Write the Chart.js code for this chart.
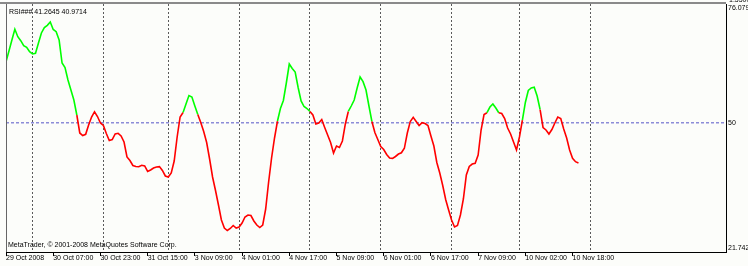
<!DOCTYPE html>
<html>
<head>
<meta charset="utf-8">
<script src="https://cdn.jsdelivr.net/npm/chart.js@4.4.1/dist/chart.umd.min.js"></script>
<style>
  html, body { margin: 0; padding: 0; background: #fcfdfa; }
  #wrap { width: 748px; height: 266px; }
</style>
</head>
<body>
<div id="wrap"><canvas id="rsi" width="748" height="266"></canvas></div>
<script>
// RSI value of every H1 bar, first bar = 29 Oct 2008
const rsi = [
  63.44, 65.78, 68.19, 70.54, 68.92, 68.04, 66.94, 66.59, 65.63, 65.13,
  65.28, 67.53, 69.73, 70.93, 71.41, 72.14, 70.49, 70.01, 68.19, 63.15,
  62.17, 59.43, 57.24, 55.05, 51.76, 47.82, 47.27, 47.53, 49.57, 51.32,
  52.48, 51.43, 50.01, 49.46, 47.71, 46.17, 46.39, 47.60, 47.75, 47.16,
  45.84, 42.56, 41.79, 40.70, 40.48, 40.43, 40.74, 40.59, 39.38, 39.71,
  40.15, 40.37, 40.45, 39.60, 38.40, 38.18, 39.05, 41.68, 46.94, 51.32,
  52.31, 54.17, 56.03, 55.70, 53.73, 51.87, 50.12, 48.15, 45.73, 42.12,
  38.18, 35.22, 32.04, 28.75, 27.00, 26.45, 26.89, 27.55, 27.00, 27.22,
  28.10, 29.41, 29.85, 29.74, 28.54, 27.66, 27.11, 27.66, 31.16, 37.08,
  42.34, 46.72, 50.44, 53.18, 54.94, 58.77, 62.93, 61.95, 61.18, 57.79,
  54.83, 53.62, 53.18, 52.53, 51.76, 49.79, 50.01, 50.77, 49.02, 47.38,
  45.73, 43.43, 44.97, 44.64, 46.06, 49.79, 52.53, 53.73, 55.05, 57.68,
  60.09, 59.06, 57.24, 53.73, 50.34, 47.93, 46.39, 44.86, 44.20, 43.11,
  42.34, 42.27, 42.67, 43.21, 43.48, 44.46, 47.82, 50.34, 51.26, 50.34,
  49.46, 50.07, 49.90, 49.46, 47.16, 44.97, 41.35, 39.05, 36.31, 33.25,
  30.95, 28.75, 27.22, 27.55, 29.85, 33.36, 38.61, 40.48, 41.02, 41.17,
  43.00, 48.47, 51.87, 52.26, 53.51, 54.17, 53.29, 52.26, 52.09, 50.99,
  48.91, 47.60, 45.84, 44.09, 46.94, 50.66, 54.50, 57.13, 57.68, 57.83,
  55.92, 52.96, 49.02, 48.47, 47.60, 48.58, 50.01, 51.32, 50.99, 48.69,
  46.72, 44.09, 42.27, 41.53, 41.26
];

// bar ranges painted green
const greenRanges = [[0, 24], [60, 65], [92, 103], [116, 124], [163, 167], [175, 181]];

// time axis labels, one every 16 bars
const labelBars = [0, 16, 32, 48, 64, 80, 96, 112, 128, 144, 160, 176, 192];
const timeLabels = [
  '29 Oct 2008', '30 Oct 07:00', '30 Oct 23:00', '31 Oct 15:00', '3 Nov 09:00',
  '4 Nov 01:00', '4 Nov 17:00', '5 Nov 09:00', '6 Nov 01:00', '6 Nov 17:00',
  '7 Nov 09:00', '10 Nov 02:00', '10 Nov 18:00'
];

// day separators (midnight bars)
const dayBars = [9, 33, 55, 79, 103, 127, 151, 174, 198];

const yMin = 21.742;
const yMax = 76.0795;
const yLevel = 50;
const yTicks = [yMin, yLevel, yMax];
const yTickLabels = ['21.7420', '50', '76.0795'];
const xMax = 244;

const RED = '#ff0000';
const GREEN = '#00ff00';

function isGreen(i0, i1) {
  return greenRanges.some(r => i0 >= r[0] && i1 <= r[1]);
}

const texts = {
  id: 'texts',
  beforeDraw(chart) {
    const ctx = chart.ctx;
    ctx.save();
    ctx.fillStyle = '#fcfdfa';
    ctx.fillRect(0, 0, chart.width, chart.height);
    ctx.restore();
  },
  afterDraw(chart) {
    const { ctx, chartArea: a } = chart;
    ctx.save();
    // window frame
    ctx.strokeStyle = '#8a8a8a';
    ctx.lineWidth = 2;
    ctx.beginPath();
    ctx.moveTo(0, a.top - 1);
    ctx.lineTo(a.right, a.top - 1);
    ctx.stroke();
    ctx.strokeStyle = '#666';
    ctx.lineWidth = 1;
    ctx.beginPath();
    ctx.moveTo(a.left + 0.5, a.top);
    ctx.lineTo(a.left + 0.5, a.bottom);
    ctx.stroke();

    ctx.fillStyle = '#000';
    ctx.font = '7px "Liberation Sans"';
    ctx.textBaseline = 'middle';
    ctx.textAlign = 'left';
    ctx.fillText('RSI### 41.2645 40.9714', a.left + 3, a.top + 8);
    ctx.fillText('MetaTrader, \u00a9 2001-2008 MetaQuotes Software Corp.', a.left + 2, a.bottom - 7);
    ctx.fillText('1.5500', a.right + 3, 0);
    ctx.restore();
  }
};

new Chart(document.getElementById('rsi'), {
  type: 'line',
  data: {
    datasets: [{
      data: rsi.map((v, i) => ({ x: i, y: v })),
      borderColor: RED,
      borderWidth: 1.6,
      pointRadius: 0,
      tension: 0,
      segment: {
        borderColor: c => isGreen(c.p0DataIndex, c.p1DataIndex) ? GREEN : RED
      }
    }]
  },
  options: {
    responsive: false,
    animation: false,
    devicePixelRatio: 1,
    layout: { padding: { left: 6, top: 4, right: 0, bottom: 0 } },
    plugins: { legend: { display: false }, tooltip: { enabled: false } },
    font: { family: 'Liberation Sans', size: 7 },
    scales: {
      x: {
        type: 'linear',
        min: 0,
        max: xMax,
        afterBuildTicks: s => {
          const all = labelBars.concat(dayBars).sort((p, q) => p - q);
          s.ticks = all.map(v => ({ value: v }));
        },
        afterFit: s => {
          s.height = 14;
          s.paddingLeft = 0;
          s.paddingRight = 0;
        },
        ticks: {
          autoSkip: false,
          maxRotation: 0,
          align: 'start',
          padding: -2,
          color: '#000',
          font: { family: 'Liberation Sans', size: 7 },
          callback: v => {
            const k = labelBars.indexOf(v);
            return k >= 0 ? timeLabels[k] : '';
          }
        },
        grid: {
          color: c => (c.tick && dayBars.includes(c.tick.value)) ? '#5a5a5a' : 'rgba(0,0,0,0)',
          tickColor: c => (c.tick && labelBars.includes(c.tick.value)) ? '#000' : 'rgba(0,0,0,0)',
          tickLength: 4,
          lineWidth: 1
        },
        border: { display: true, color: '#000', width: 1, dash: [2, 2] }
      },
      y: {
        position: 'right',
        min: yMin,
        max: yMax,
        afterBuildTicks: s => { s.ticks = yTicks.map(v => ({ value: v })); },
        afterFit: s => {
          s.width = 22;
          s.paddingTop = 0;
          s.paddingBottom = 0;
        },
        ticks: {
          padding: 2,
          color: '#000',
          font: { family: 'Liberation Sans', size: 7 },
          callback: v => {
            const k = yTicks.indexOf(v);
            if (k < 0) return '';
            if (v === yMax) return ['', yTickLabels[k]];
            if (v === yMin) return [yTickLabels[k], ''];
            return yTickLabels[k];
          }
        },
        grid: {
          drawTicks: false,
          color: c => (c.tick && c.tick.value === yLevel) ? '#8c8cd8' : 'rgba(0,0,0,0)',
          lineWidth: 1.5
        },
        border: { display: true, color: '#000', width: 1, dash: [3, 2] }
      }
    }
  },
  plugins: [texts]
});
</script>
</body>
</html>
